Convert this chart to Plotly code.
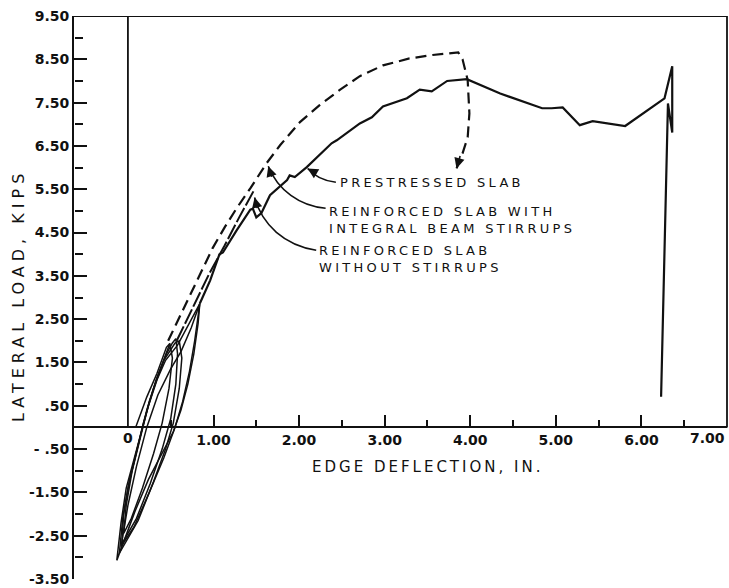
import plotly.graph_objects as go

# ---------------- data ----------------
# Prestressed slab (solid)
pre_x = [0.84, 0.96, 1.07, 1.11, 1.27, 1.43, 1.46, 1.50, 1.56, 1.66, 1.86, 1.89, 1.95, 2.09, 2.38, 2.44,
         2.71, 2.85, 2.98, 3.26, 3.41, 3.55, 3.73, 3.96, 4.35, 4.84, 4.95, 5.08, 5.28, 5.43, 5.81, 6.27,
         6.36, 6.36, 6.31, 6.23]
pre_y = [2.86, 3.39, 4.00, 4.04, 4.55, 5.03, 5.05, 4.85, 4.95, 5.36, 5.71, 5.82, 5.78, 6.01, 6.56, 6.63,
         7.02, 7.16, 7.41, 7.60, 7.80, 7.76, 8.00, 8.04, 7.71, 7.37, 7.37, 7.39, 6.98, 7.07, 6.96, 7.60,
         8.34, 6.81, 7.48, 0.71]

# Reinforced slab with integral beam stirrups (dashed)
stir_x = [0.47, 0.65, 0.82, 0.99, 1.13, 1.27, 1.43, 1.62, 1.78, 2.01, 2.24, 2.48, 2.71, 2.98, 3.29, 3.56,
          3.86, 3.91, 3.97, 3.99, 3.97, 3.91, 3.84]
stir_y = [2.00, 2.75, 3.44, 4.14, 4.62, 5.06, 5.52, 6.10, 6.52, 7.05, 7.44, 7.80, 8.11, 8.36, 8.52, 8.60,
          8.66, 8.50, 8.02, 7.25, 6.70, 6.33, 5.98]

# Reinforced slab without stirrups
nost_x = [0.57, 0.75, 0.95, 1.13, 1.30, 1.48]
nost_y = [2.00, 2.75, 3.55, 4.20, 4.85, 5.50]

# Cyclic loops near the origin
loop1_x = [-0.05, -0.02, 0.05, 0.15, 0.25, 0.36, 0.45, 0.49, 0.52, 0.48, 0.40, 0.30, 0.17, 0.04, -0.05]
loop1_y = [-2.45, -1.80, -1.00, -0.20, 0.60, 1.25, 1.75, 1.94, 1.60, 0.90, 0.10, -0.60, -1.40, -2.10, -2.45]
loop2_x = [-0.07, -0.05, 0.02, 0.12, 0.22, 0.33, 0.45, 0.52, 0.56, 0.58, 0.56, 0.50, 0.40, 0.26, 0.10, -0.07]
loop2_y = [-2.69, -2.00, -1.20, -0.40, 0.40, 1.10, 1.70, 1.95, 2.05, 1.70, 1.00, 0.20, -0.50, -1.30, -2.10, -2.69]
loop3_x = [-0.10, -0.06, 0.00, 0.08, 0.18, 0.30, 0.42, 0.55, 0.60, 0.63, 0.60, 0.53, 0.44, 0.30, 0.12, -0.10]
loop3_y = [-2.90, -2.10, -1.40, -0.70, 0.10, 0.90, 1.55, 1.95, 2.00, 1.60, 0.90, 0.10, -0.50, -1.25, -2.15, -2.90]
loop4_x = [-0.13, -0.08, -0.02, 0.06, 0.14, 0.24, 0.34, 0.44, 0.58, 0.70, 0.84, 0.82, 0.77, 0.70, 0.62,
           0.53, 0.40, 0.24, 0.08, -0.06, -0.13]
loop4_y = [-3.07, -2.20, -1.40, -0.80, -0.20, 0.50, 1.10, 1.55, 1.90, 2.35, 2.86, 2.40, 1.70, 1.00, 0.40,
           -0.10, -0.60, -1.20, -1.95, -2.70, -3.07]
loop5_x = [-0.08, 0.00, 0.10, 0.22, 0.35, 0.50, 0.62, 0.74, 0.84, 0.78, 0.72, 0.64, 0.55, 0.42, 0.25, 0.07, -0.08]
loop5_y = [-2.75, -1.80, -0.90, 0.00, 0.75, 1.35, 1.75, 2.30, 2.86, 2.00, 1.30, 0.60, 0.00, -0.70, -1.50, -2.30, -2.75]
init_x = [0.09, 0.22, 0.34, 0.45, 0.49]
init_y = [0.00, 0.70, 1.25, 1.85, 1.94]

# ticks and tick labels
y_tickvals = [9.5, 8.5, 7.5, 6.5, 5.5, 4.5, 3.5, 2.5, 1.5, 0.5, -0.5, -1.5, -2.5, -3.5]
y_ticktext = ["9.50", "8.50", "7.50", "6.50", "5.50", "4.50", "3.50", "2.50", "1.50", ".50",
              "- .50", "-1.50", "-2.50", "-3.50"]
y_minor = [9, 8, 7, 6, 5, 4, 3, 2, 1, -1, -2, -3]
x_tickvals = [1, 2, 3, 4, 5, 6]
x_ticktext = ["1.00", "2.00", "3.00", "4.00", "5.00", "6.00"]
x_zero_label = "0"
x_last_label = "7.00"
x_minor = [0.5, 1.5, 2.5, 3.5, 4.5, 5.5, 6.5]

INK = "#111111"
FONT = "DejaVu Sans"
XR = [-0.63, 7.0]
YR = [-3.5, 9.5]
XPOS = (0 - YR[0]) / (YR[1] - YR[0])

fig = go.Figure()

def add_line(x, y, width=2.0, dash="solid"):
    fig.add_trace(go.Scatter(x=x, y=y, mode="lines", showlegend=False, hoverinfo="skip",
                             line=dict(color=INK, width=width, dash=dash)))

for lx, ly in [(loop1_x, loop1_y), (loop2_x, loop2_y), (loop3_x, loop3_y), (loop4_x, loop4_y),
               (loop5_x, loop5_y), (init_x, init_y)]:
    add_line(lx, ly, width=1.5)

add_line(pre_x, pre_y, width=2.2)
add_line(stir_x, stir_y, width=2.2, dash="11px,6px")
add_line(nost_x, nost_y, width=2.0, dash="16px,3px")

# invisible traces carrying the minor-tick axes
for xa, ya in [("x2", "y"), ("x", "y2")]:
    fig.add_trace(go.Scatter(x=[XR[0]], y=[YR[0]], xaxis=xa, yaxis=ya, mode="markers",
                             marker=dict(opacity=0), showlegend=False, hoverinfo="skip"))

# frame, vertical zero reference line
fig.add_shape(type="line", xref="paper", yref="y", x0=0, x1=1, y0=9.5, y1=9.5,
              line=dict(color=INK, width=1.8))
fig.add_shape(type="line", xref="paper", yref="y", x0=1, x1=1, y0=0, y1=9.5,
              line=dict(color=INK, width=1.8))
fig.add_shape(type="line", xref="x", yref="y", x0=0, x1=0, y0=0, y1=9.5,
              line=dict(color=INK, width=1.8))

# leader curves
fig.add_shape(type="path", xref="x", yref="y",
              path="M 2.43,5.66 Q 2.22,5.71 2.10,5.98", line=dict(color=INK, width=1.6))
fig.add_shape(type="path", xref="x", yref="y",
              path="M 2.31,5.06 C 2.01,5.11 1.75,5.48 1.64,6.03", line=dict(color=INK, width=1.6))
fig.add_shape(type="path", xref="x", yref="y",
              path="M 2.20,4.09 C 1.83,4.21 1.57,4.67 1.48,5.31", line=dict(color=INK, width=1.6))

# arrow heads
for (ax_, ay_, dx, dy) in [(2.10, 5.98, 10, 6), (1.64, 6.03, 4, 12), (1.48, 5.31, 3, 12), (3.84, 5.98, 4, -14)]:
    fig.add_annotation(x=ax_, y=ay_, xref="x", yref="y", ax=dx, ay=dy, text="", showarrow=True,
                       arrowhead=2, arrowsize=1.3, arrowwidth=1.6, arrowcolor=INK, standoff=0)

def label(txt, x, y, size=13, spacing=3.3):
    lines = txt.split("\n")
    html = "<br>".join(f'<span style="letter-spacing:{spacing}px">{t}</span>' for t in lines)
    fig.add_annotation(x=x, y=y, xref="x", yref="y", showarrow=False, xanchor="left", yanchor="middle",
                       align="left", text=html, font=dict(family=FONT, size=size, color=INK))

label("PRESTRESSED SLAB", 2.45, 5.66)
label("REINFORCED SLAB WITH\nINTEGRAL BEAM STIRRUPS", 2.33, 4.80)
label("REINFORCED SLAB\nWITHOUT STIRRUPS", 2.21, 3.88)

tickfont = dict(family=FONT, size=14, color=INK, weight="bold")

# "0" and "7.00" tick labels
fig.add_annotation(x=0, y=0, xref="x", yref="y", yshift=-11, showarrow=False, xanchor="center",
                   yanchor="middle", text=x_zero_label, font=tickfont)
fig.add_annotation(x=1, y=0, xref="paper", yref="y", yshift=-11, showarrow=False, xanchor="right",
                   yanchor="middle", text=x_last_label, font=tickfont)

# axis titles
fig.add_annotation(x=3.50, y=-0.92, xref="x", yref="y", showarrow=False, xanchor="center", yanchor="middle",
                   text='<span style="letter-spacing:3px">EDGE DEFLECTION, IN.</span>',
                   font=dict(family=FONT, size=15, color=INK))
fig.add_annotation(x=-0.086, y=0.504, xref="paper", yref="paper", showarrow=False, textangle=-90,
                   xanchor="center", yanchor="middle",
                   text='<span style="letter-spacing:5px">LATERAL LOAD, KIPS</span>',
                   font=dict(family=FONT, size=16, color=INK))

fig.update_layout(
    width=729, height=588,
    margin=dict(l=74, r=2, t=16, b=9),
    paper_bgcolor="white", plot_bgcolor="white",
    font=dict(family=FONT, size=14, color=INK),
    showlegend=False,
    xaxis=dict(range=XR, anchor="free", position=XPOS, showgrid=False, zeroline=False,
               showline=True, linecolor=INK, linewidth=1.8,
               tickmode="array", tickvals=x_tickvals, ticktext=x_ticktext,
               ticks="inside", ticklen=12, tickwidth=2.4, tickcolor=INK, tickfont=tickfont),
    xaxis2=dict(range=XR, anchor="free", position=XPOS, side="top", overlaying="x", showgrid=False,
                zeroline=False, showline=False, showticklabels=False, tickmode="array", tickvals=x_minor,
                ticks="outside", ticklen=7, tickwidth=2, tickcolor=INK),
    yaxis=dict(range=YR, showgrid=False, zeroline=False,
               showline=True, linecolor=INK, linewidth=1.8,
               tickmode="array", tickvals=y_tickvals, ticktext=y_ticktext,
               ticks="inside", ticklen=13, tickwidth=2.4, tickcolor=INK, tickfont=tickfont),
    yaxis2=dict(range=YR, anchor="free", position=0, side="right", overlaying="y", showgrid=False,
                zeroline=False, showline=False, showticklabels=False, tickmode="array", tickvals=y_minor,
                ticks="outside", ticklen=8, tickwidth=2, tickcolor=INK),
)

fig.write_html("out.html")
